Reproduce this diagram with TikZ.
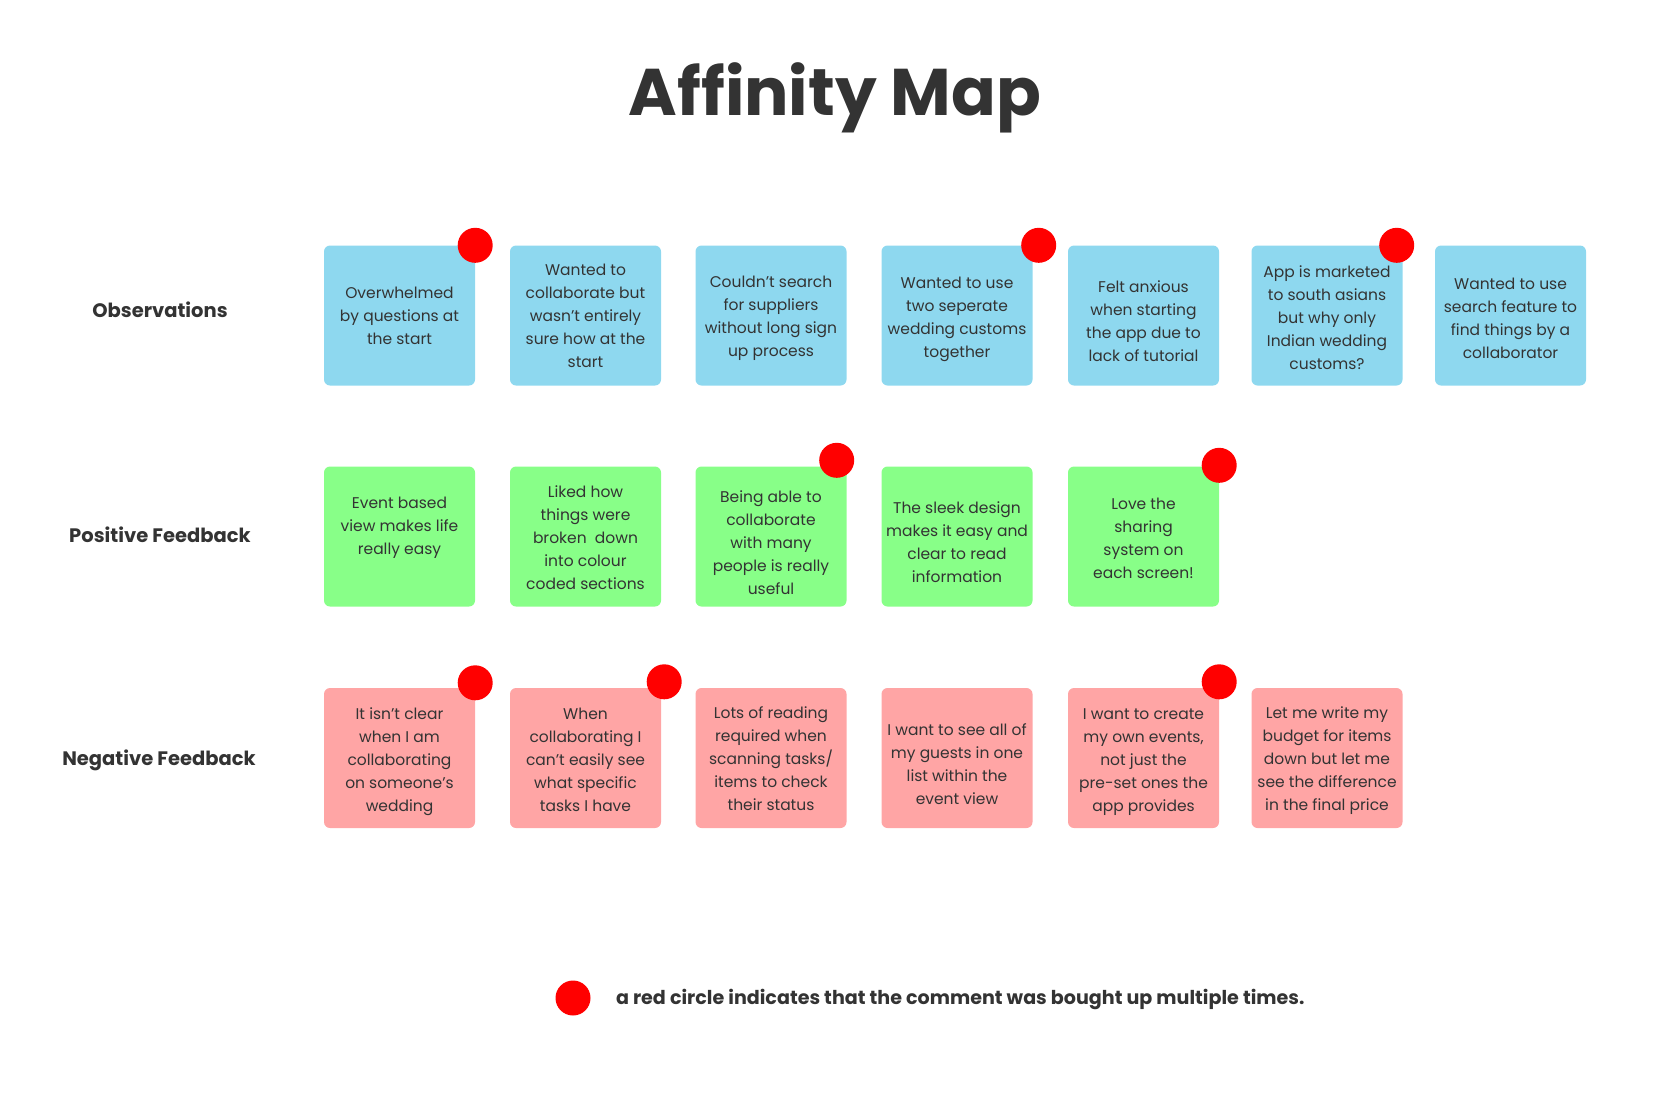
\documentclass[tikz,border=0pt]{standalone}
\usepackage{fontspec}
\setmainfont{Poppins}
\definecolor{ink}{HTML}{333333}
\definecolor{obsblue}{HTML}{8ED8EF}
\definecolor{posgreen}{HTML}{88FF88}
\definecolor{negpink}{HTML}{FFA5A5}
\definecolor{dotred}{HTML}{FF0000}
% \stickynote{style}{name}{position}{text offset}{text}
\newcommand{\stickynote}[5]{%
  \node[#1] (#2) at (#3) {};
  \node[notetext] (#2t) at ([yshift=#4]#2.center) {#5};}
\begin{document}
\begin{tikzpicture}[x=1pt,y=-1pt,
  card/.style={rounded corners=6pt, minimum width=151pt, minimum height=140pt, inner sep=0pt},
  notetext/.style={inner sep=0pt, align=center, text=ink, font=\fontsize{15.5}{23}\selectfont},
  obscard/.style={card, fill=obsblue},
  poscard/.style={card, fill=posgreen},
  negcard/.style={card, fill=negpink},
  reddot/.style={circle, fill=dotred, minimum size=35pt, inner sep=0pt},
  rowlabel/.style={anchor=base, text=ink, font=\fontsize{19.5}{24}\selectfont\bfseries}
]
\useasboundingbox (0,0) rectangle (1670,1109);

% title
\node[anchor=base, text=ink, font=\fontsize{66}{74}\selectfont\bfseries] (title) at (835,115) {Affinity Map};

% row headings
\node[rowlabel] (lobs) at (160,317) {Observations};
\node[rowlabel] (lpos) at (160,542) {Positive Feedback};
\node[rowlabel] (lneg) at (159,765) {Negative Feedback};

% observations
\stickynote{obscard}{o1}{399.5,315.5}{0pt}{Overwhelmed\\by questions at\\the start}
\stickynote{obscard}{o2}{585.5,315.5}{0pt}{Wanted to\\collaborate but\\wasn’t entirely\\sure how at the\\start}
\stickynote{obscard}{o3}{771,315.5}{-3pt}{Couldn’t search\\for suppliers\\without long sign\\up process}
\stickynote{obscard}{o4}{957,315.5}{-4pt}{Wanted to use\\two seperate\\wedding customs\\together}
\stickynote{obscard}{o5}{1143.5,315.5}{-6pt}{Felt anxious\\when starting\\the app due to\\lack of tutorial}
\stickynote{obscard}{o6}{1327,315.5}{-2pt}{App is marketed\\to south asians\\but why only\\Indian wedding\\customs?}
\stickynote{obscard}{o7}{1510.5,315.5}{-3pt}{Wanted to use\\search feature to\\find things by a\\collaborator}

% positive feedback
\stickynote{poscard}{p1}{399.5,536.5}{8.5pt}{Event based\\view makes life\\really easy}
\stickynote{poscard}{p2}{585.5,536.5}{-1pt}{Liked how\\things were\\broken\ \ down\\into colour\\coded sections}
\stickynote{poscard}{p3}{771,536.5}{-6pt}{Being able to\\collaborate\\with many\\people is really\\useful}
\stickynote{poscard}{p4}{957,536.5}{-6pt}{The sleek design\\makes it easy and\\clear to read\\information}
\stickynote{poscard}{p5}{1143.5,536.5}{-2pt}{Love the\\sharing\\system on\\each screen!}

% negative feedback
\stickynote{negcard}{n1}{399.5,758}{-4pt}{It isn’t clear\\when I am\\collaborating\\on someone’s\\wedding}
\stickynote{negcard}{n2}{585.5,758}{-2pt}{When\\collaborating I\\can’t easily see\\what specific\\tasks I have}
\stickynote{negcard}{n3}{771,758}{-1pt}{Lots of reading\\required when\\scanning tasks/\\items to check\\their status}
\stickynote{negcard}{n4}{957,758}{-6pt}{I want to see all of\\my guests in one\\list within the\\event view}
\stickynote{negcard}{n5}{1143.5,758}{-4pt}{I want to create\\my own events,\\not just the\\pre-set ones the\\app provides}
\stickynote{negcard}{n6}{1327,758}{-3pt}{Let me write my\\budget for items\\down but let me\\see the difference\\in the final price}

% repeated-comment markers
\node[reddot] (do1) at (o1.north east) {};
\node[reddot] (do4) at ([xshift=6pt]o4.north east) {};
\node[reddot] (do6) at ([xshift=-6pt]o6.north east) {};
\node[reddot] (dp3) at ([xshift=-10pt,yshift=6pt]p3.north east) {};
\node[reddot] (dp5) at ([yshift=1pt]p5.north east) {};
\node[reddot] (dn1) at ([yshift=5pt]n1.north east) {};
\node[reddot] (dn2) at ([xshift=3pt,yshift=6pt]n2.north east) {};
\node[reddot] (dn5) at ([yshift=6pt]n5.north east) {};

% legend
\node[reddot] (key) at (573,998) {};
\node[anchor=base west, text=ink, font=\fontsize{19.1}{24}\selectfont\bfseries] (keytext) at (612.5,1004.5) {a red circle indicates that the comment was bought up multiple times.};
\end{tikzpicture}
\end{document}
